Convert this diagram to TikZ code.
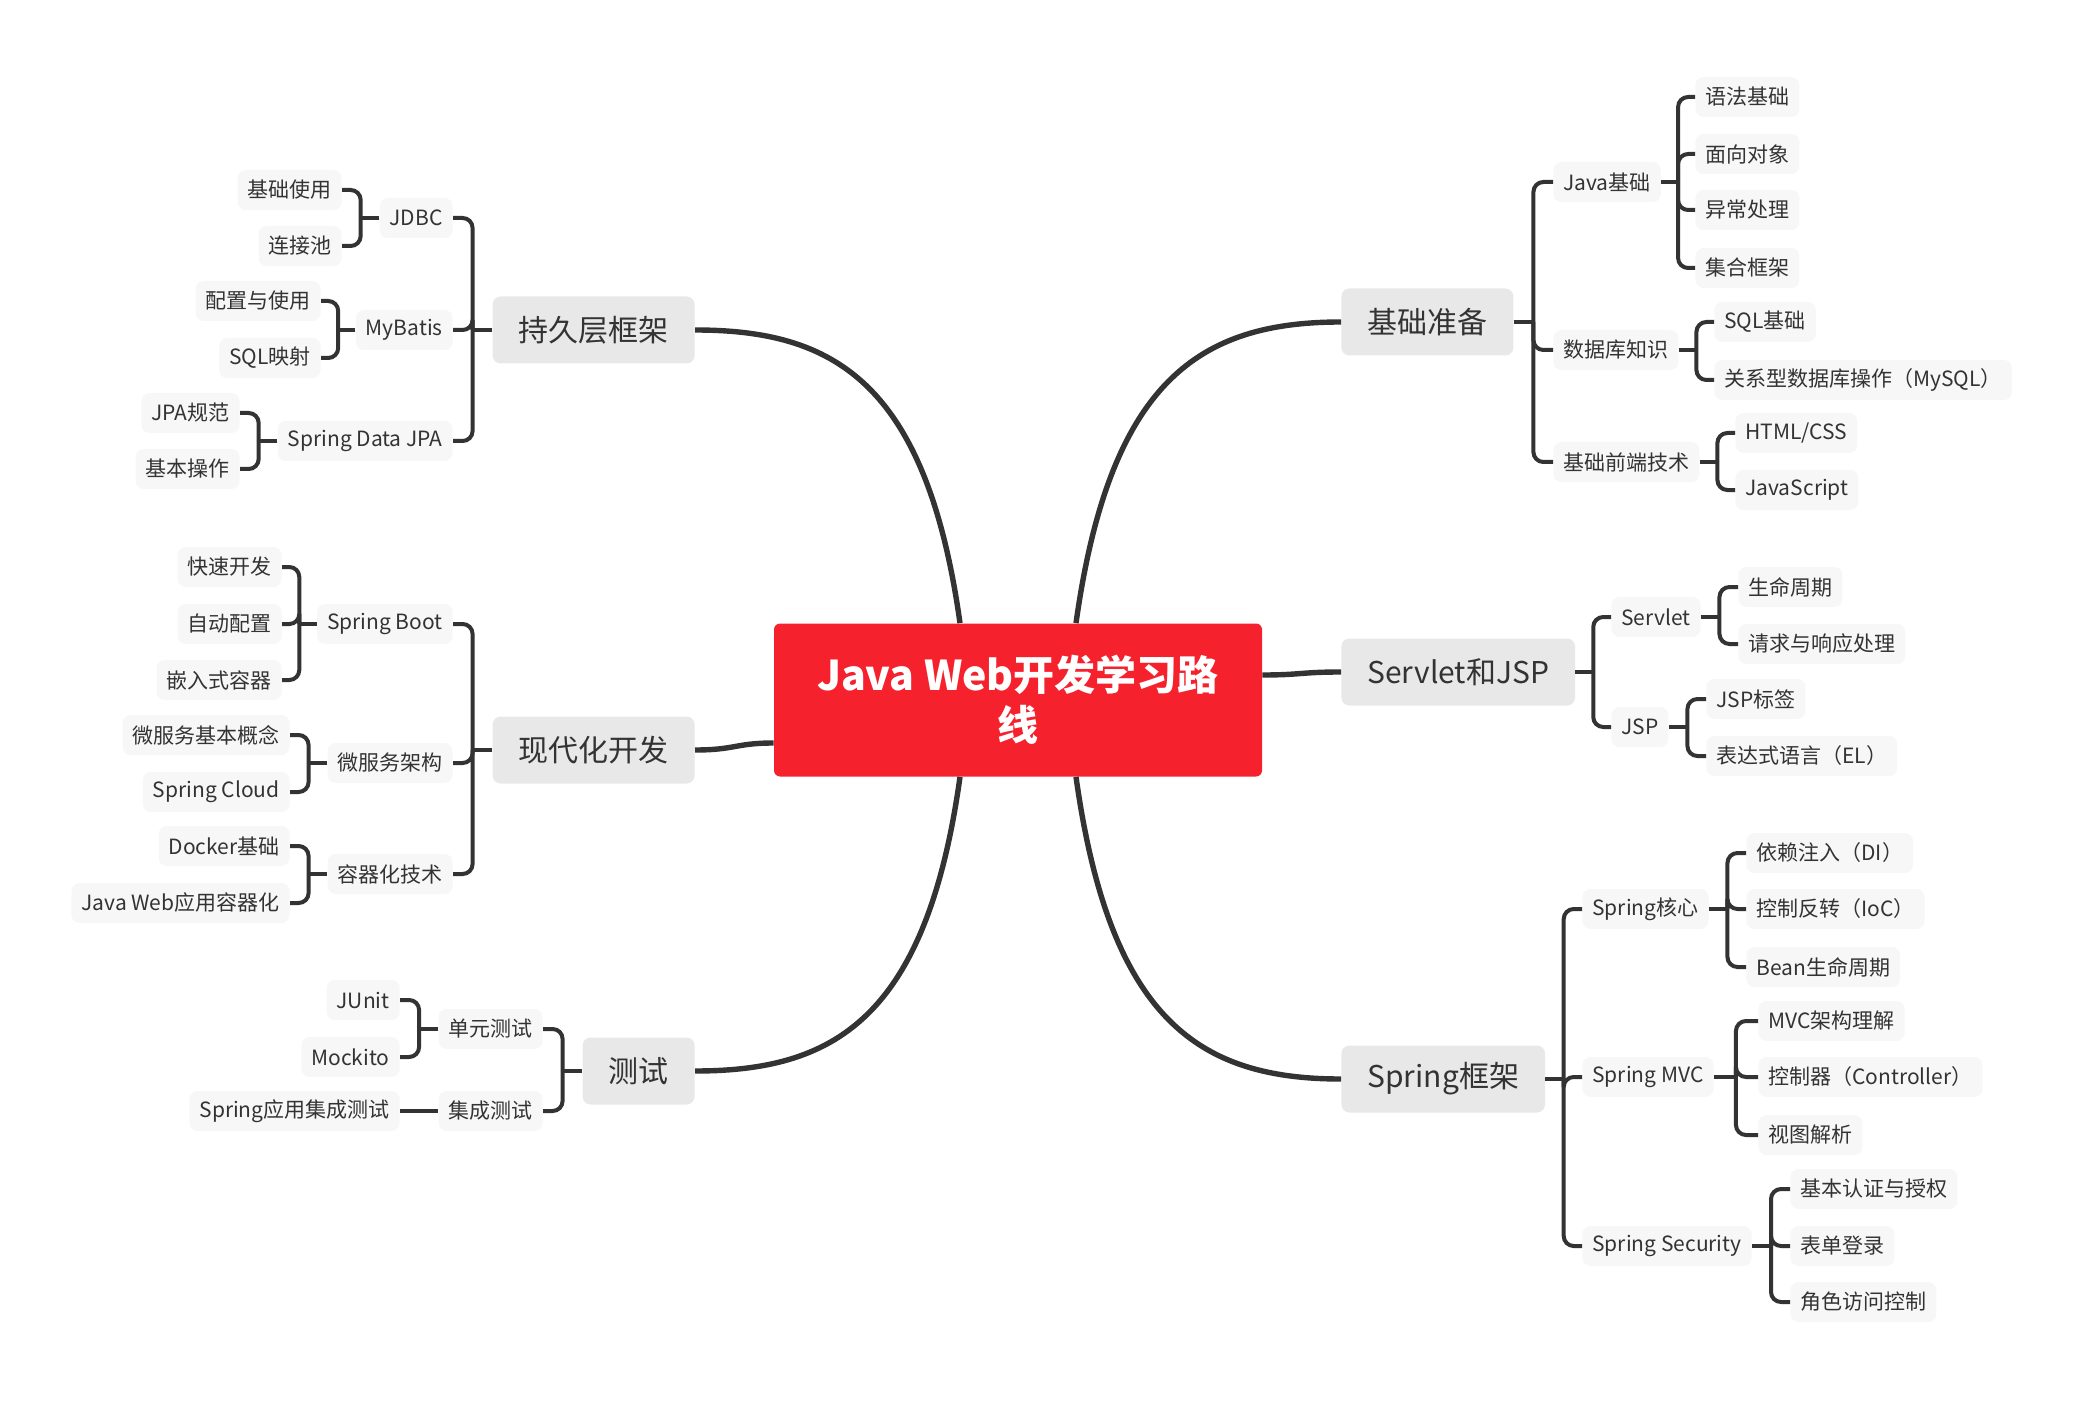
\documentclass[tikz,border=0pt]{standalone}
\usepackage{fontspec}
\setmainfont{Noto Sans CJK SC}
\usetikzlibrary{calc}

\definecolor{rootred}{HTML}{F5222D}
\definecolor{topicgray}{HTML}{E8E8E8}
\definecolor{leafgray}{HTML}{F7F7F7}
\definecolor{inkgray}{HTML}{333333}

\tikzset{
  root/.style={fill=rootred, text=white, rounded corners=3pt, minimum width=244pt,
    minimum height=76.5pt, align=center, font=\fontsize{20.5}{25}\selectfont\bfseries},
  topic/.style={fill=topicgray, text=inkgray, rounded corners=4pt, inner xsep=13pt,
    minimum height=33.5pt, font=\fontsize{15}{18}\selectfont},
  leaf/.style={fill=leafgray, text=inkgray, rounded corners=4pt, inner xsep=5pt,
    minimum height=20pt, font=\fontsize{10.5}{12}\selectfont},
  trunk/.style={draw=inkgray, line width=2.7pt},
  branch/.style={draw=inkgray, line width=2pt},
}

% parent -> child, bar half way between them
\newcommand\rbranch[2]{%
  \coordinate (j) at ($(#1.east)!.5!(#1.east -| #2.west)$);
  \draw[branch] (#1.east) -- (j);
  \draw[branch, rounded corners=5pt] (j) |- (#2.west);}
\newcommand\lbranch[2]{%
  \coordinate (j) at ($(#1.west)!.5!(#1.west -| #2.east)$);
  \draw[branch] (#1.west) -- (j);
  \draw[branch, rounded corners=5pt] (j) |- (#2.east);}

\begin{document}
\begin{tikzpicture}[x=0.5pt, y=-0.5pt]
  \useasboundingbox (0,0) rectangle (2088,1401);

  \node[root] (root) at (1018,700) {Java Web开发学习路\\线};

  % right side
  \node[topic, anchor=west] (prep) at (1341,322) {基础准备};
  \node[leaf, anchor=west] (javabase) at (1553,182) {Java基础};
  \node[leaf, anchor=west] (dbknow) at (1553,350) {数据库知识};
  \node[leaf, anchor=west] (frontend) at (1553,462) {基础前端技术};
  \node[leaf, anchor=west] (syntax) at (1695,97) {语法基础};
  \node[leaf, anchor=west] (oop) at (1695,154) {面向对象};
  \node[leaf, anchor=west] (except) at (1695,210) {异常处理};
  \node[leaf, anchor=west] (collect) at (1695,268) {集合框架};
  \node[leaf, anchor=west] (sqlbase) at (1714,322) {SQL基础};
  \node[leaf, anchor=west] (mysql) at (1714,380) {关系型数据库操作（MySQL）};
  \node[leaf, anchor=west] (htmlcss) at (1735,433) {HTML/CSS};
  \node[leaf, anchor=west] (js) at (1735,490) {JavaScript};

  \node[topic, anchor=west] (servjsp) at (1341,672) {Servlet和JSP};
  \node[leaf, anchor=west] (servlet) at (1611,617) {Servlet};
  \node[leaf, anchor=west] (jsp) at (1611,727) {JSP};
  \node[leaf, anchor=west] (lifecyc) at (1738,587) {生命周期};
  \node[leaf, anchor=west] (reqresp) at (1738,644) {请求与响应处理};
  \node[leaf, anchor=west] (jsptag) at (1706,699) {JSP标签};
  \node[leaf, anchor=west] (el) at (1706,756) {表达式语言（EL）};

  \node[topic, anchor=west] (spring) at (1341,1079) {Spring框架};
  \node[leaf, anchor=west] (score) at (1582,909) {Spring核心};
  \node[leaf, anchor=west] (smvc) at (1582,1077) {Spring MVC};
  \node[leaf, anchor=west] (ssec) at (1582,1246) {Spring Security};
  \node[leaf, anchor=west] (di) at (1746,853) {依赖注入（DI）};
  \node[leaf, anchor=west] (ioc) at (1746,909) {控制反转（IoC）};
  \node[leaf, anchor=west] (bean) at (1746,967) {Bean生命周期};
  \node[leaf, anchor=west] (mvcarch) at (1758,1021) {MVC架构理解};
  \node[leaf, anchor=west] (ctrl) at (1758,1077) {控制器（Controller）};
  \node[leaf, anchor=west] (view) at (1758,1135) {视图解析};
  \node[leaf, anchor=west] (auth) at (1790,1189) {基本认证与授权};
  \node[leaf, anchor=west] (form) at (1790,1246) {表单登录};
  \node[leaf, anchor=west] (role) at (1790,1302) {角色访问控制};

  % left side
  \node[topic, anchor=east] (persist) at (695,330) {持久层框架};
  \node[leaf, anchor=east] (jdbc) at (453,218) {JDBC};
  \node[leaf, anchor=east] (mybatis) at (453,330) {MyBatis};
  \node[leaf, anchor=east] (sdjpa) at (453,441) {Spring Data JPA};
  \node[leaf, anchor=east] (jdbcuse) at (342,190) {基础使用};
  \node[leaf, anchor=east] (pool) at (342,246) {连接池};
  \node[leaf, anchor=east] (mbconf) at (321,301) {配置与使用};
  \node[leaf, anchor=east] (sqlmap) at (321,358) {SQL映射};
  \node[leaf, anchor=east] (jpaspec) at (240,413) {JPA规范};
  \node[leaf, anchor=east] (jpaops) at (240,469) {基本操作};

  \node[topic, anchor=east] (modern) at (695,750) {现代化开发};
  \node[leaf, anchor=east] (sboot) at (453,624) {Spring Boot};
  \node[leaf, anchor=east] (micro) at (453,763) {微服务架构};
  \node[leaf, anchor=east] (contain) at (453,874) {容器化技术};
  \node[leaf, anchor=east] (quick) at (282,567) {快速开发};
  \node[leaf, anchor=east] (autoconf) at (282,624) {自动配置};
  \node[leaf, anchor=east] (embed) at (282,680) {嵌入式容器};
  \node[leaf, anchor=east] (msbasic) at (290,735) {微服务基本概念};
  \node[leaf, anchor=east] (scloud) at (290,792) {Spring Cloud};
  \node[leaf, anchor=east] (docker) at (290,846) {Docker基础};
  \node[leaf, anchor=east] (webcont) at (290,903) {Java Web应用容器化};

  \node[topic, anchor=east] (testing) at (695,1071) {测试};
  \node[leaf, anchor=east] (unit) at (543,1029) {单元测试};
  \node[leaf, anchor=east] (integ) at (543,1111) {集成测试};
  \node[leaf, anchor=east] (junit) at (400,1000) {JUnit};
  \node[leaf, anchor=east] (mockito) at (400,1057) {Mockito};
  \node[leaf, anchor=east] (springit) at (400,1111) {Spring应用集成测试};

  % trunks from the root
  \draw[trunk] ($(root.north)+(58,0)$) .. controls +(34,-243) and +(-141,0) .. (prep.west);
  \draw[trunk] ($(root.north)+(-58,0)$) .. controls +(-34,-243) and +(137,0) .. (persist.east);
  \draw[trunk] ($(root.south)+(58,0)$) .. controls +(34,244) and +(-141,0) .. (spring.west);
  \draw[trunk] ($(root.south)+(-58,0)$) .. controls +(-34,244) and +(137,0) .. (testing.east);
  \draw[trunk] ($(root.east)+(0,-25)$) .. controls +(38,0) and +(-40,0) .. (servjsp.west);
  \draw[trunk] ($(root.west)+(0,43)$) .. controls +(-38,0) and +(40,0) .. (modern.east);

  % branches
  \foreach \c in {javabase,dbknow,frontend} \rbranch{prep}{\c};
  \foreach \c in {syntax,oop,except,collect} \rbranch{javabase}{\c};
  \foreach \c in {sqlbase,mysql} \rbranch{dbknow}{\c};
  \foreach \c in {htmlcss,js} \rbranch{frontend}{\c};
  \foreach \c in {servlet,jsp} \rbranch{servjsp}{\c};
  \foreach \c in {lifecyc,reqresp} \rbranch{servlet}{\c};
  \foreach \c in {jsptag,el} \rbranch{jsp}{\c};
  \foreach \c in {score,smvc,ssec} \rbranch{spring}{\c};
  \foreach \c in {di,ioc,bean} \rbranch{score}{\c};
  \foreach \c in {mvcarch,ctrl,view} \rbranch{smvc}{\c};
  \foreach \c in {auth,form,role} \rbranch{ssec}{\c};

  \foreach \c in {jdbc,mybatis,sdjpa} \lbranch{persist}{\c};
  \foreach \c in {jdbcuse,pool} \lbranch{jdbc}{\c};
  \foreach \c in {mbconf,sqlmap} \lbranch{mybatis}{\c};
  \foreach \c in {jpaspec,jpaops} \lbranch{sdjpa}{\c};
  \foreach \c in {sboot,micro,contain} \lbranch{modern}{\c};
  \foreach \c in {quick,autoconf,embed} \lbranch{sboot}{\c};
  \foreach \c in {msbasic,scloud} \lbranch{micro}{\c};
  \foreach \c in {docker,webcont} \lbranch{contain}{\c};
  \foreach \c in {unit,integ} \lbranch{testing}{\c};
  \foreach \c in {junit,mockito} \lbranch{unit}{\c};
  \draw[branch] (integ.west) -- (springit.east);
\end{tikzpicture}
\end{document}
